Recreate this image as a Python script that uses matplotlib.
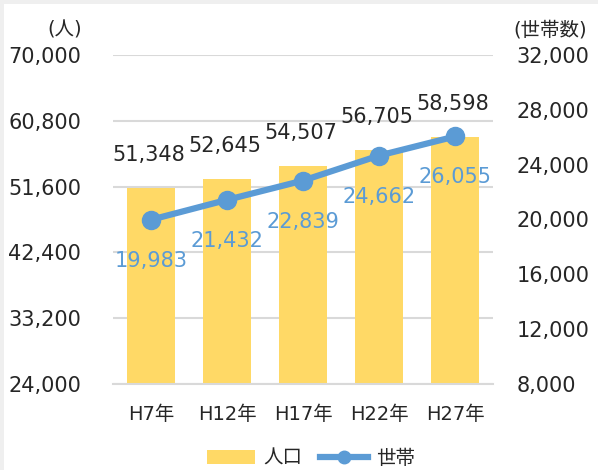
import matplotlib
matplotlib.use("Agg")
import matplotlib.pyplot as plt
from matplotlib.patches import Rectangle
from matplotlib.lines import Line2D
from matplotlib.patches import Patch

plt.rcParams['font.family'] = ['DejaVu Sans', 'Noto Sans CJK JP']

years = ['H7年', 'H12年', 'H17年', 'H22年', 'H27年']
population = [51348, 52645, 54507, 56705, 58598]
households = [19983, 21432, 22839, 24662, 26055]
left_ticks = [24000, 33200, 42400, 51600, 60800, 70000]
right_ticks = [8000, 12000, 16000, 20000, 24000, 28000, 32000]

BAR = '#FFD966'
LINE = '#5B9BD5'
GRID = '#D9D9D9'
TXT = '#262626'

fig = plt.figure(figsize=(5.98, 4.70), dpi=100)
fig.patch.set_facecolor('#EFEFEF')
fig.patches.append(Rectangle((4 / 598, 0), 1, 1 - 4 / 470, transform=fig.transFigure,
                             facecolor='white', edgecolor='none', zorder=-1))

ax = fig.add_axes([113 / 598, 1 - 384 / 470, (493 - 113) / 598, (384 - 55) / 470])
ax.set_facecolor('none')
x = list(range(len(years)))
ax.bar(x, population, width=0.62, color=BAR, zorder=2)
ax.set_ylim(24000, 70000)
ax.set_xlim(-0.5, 4.5)
ax.set_yticks(left_ticks)
ax.set_yticklabels([f'{v:,}' for v in left_ticks])
ax.yaxis.grid(True, color=GRID, linewidth=1.5, zorder=0)
ax.set_axisbelow(True)
for s in ['top', 'left', 'right']:
    ax.spines[s].set_visible(False)
ax.spines['bottom'].set_color(GRID)
ax.spines['bottom'].set_linewidth(1.5)
ax.tick_params(axis='y', length=0, pad=23, labelsize=15, labelcolor=TXT)
ax.set_xticks(x)
ax.set_xticklabels(years)
ax.tick_params(axis='x', length=0, pad=15, labelsize=14, labelcolor=TXT)

for xi, v in zip(x, population):
    ax.annotate(f'{v:,}', (xi, v), xytext=(-2, 33), textcoords='offset pixels',
                ha='center', va='center', fontsize=15, color=TXT, zorder=5)

ax2 = ax.twinx()
ax2.set_ylim(8000, 32000)
ax2.set_yticks(right_ticks)
ax2.set_yticklabels([f'{v:,}' for v in right_ticks])
for s in ['top', 'left', 'right', 'bottom']:
    ax2.spines[s].set_visible(False)
ax2.tick_params(axis='y', length=0, pad=17, labelsize=15, labelcolor=TXT)
ax2.plot(x, households, color=LINE, linewidth=4.5, marker='o', markersize=13, zorder=3)
for xi, v in zip(x, households):
    ax2.annotate(f'{v:,}', (xi, v), xytext=(0, -41), textcoords='offset pixels',
                 ha='center', va='center', fontsize=15, color=LINE, zorder=5)

fig.text(65 / 598, 1 - 30 / 470, '(人)', ha='center', va='center', fontsize=14, color=TXT)
fig.text(550 / 598, 1 - 30 / 470, '(世帯数)', ha='center', va='center', fontsize=14, color=TXT)

handles = [Patch(facecolor=BAR, edgecolor='none'),
           Line2D([0], [0], color=LINE, linewidth=4.5, marker='o', markersize=9)]
fig.legend(handles, ['人口', '世帯'], loc='center', bbox_to_anchor=(311 / 598, 1 - 458 / 470),
           ncol=2, frameon=False, fontsize=14, handlelength=2.5, handletextpad=0.4,
           columnspacing=0.9, labelcolor=TXT)

fig.savefig('out.png', dpi=100, facecolor=fig.get_facecolor())
